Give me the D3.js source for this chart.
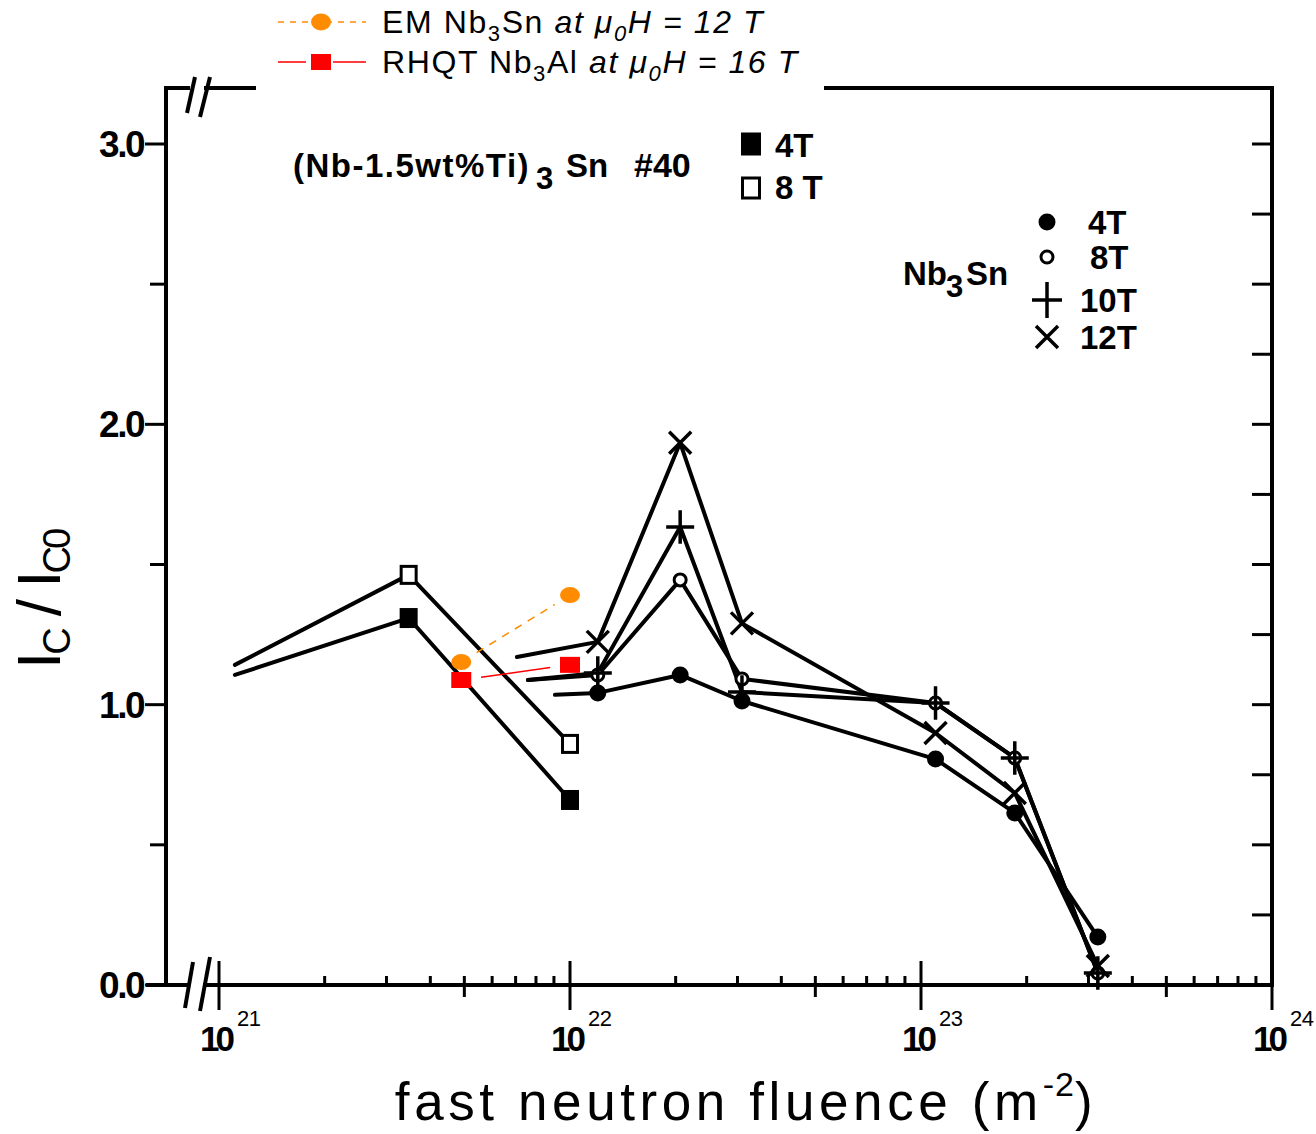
<!DOCTYPE html>
<html>
<head>
<meta charset="utf-8">
<script src="https://cdn.jsdelivr.net/npm/d3@7"></script>
<style>
  body { margin: 0; background: #fff; }
  svg { display: block; }
  text { font-family: "Liberation Sans", Arial, sans-serif; }
</style>
</head>
<body>
<div id="chart"></div>
<script>
// fluence in m^-2. The first point of each black series is only where the
// drawn line starts in the original figure (no marker there).
const nbtiFluence = [1.11e21, 3.47e21, 1.0e22];
const nbti4T = [1.106, 1.309, 0.660];
const nbti8T = [1.142, 1.463, 0.860];

const sn4TFluence = [9.06e21, 1.20e22, 2.06e22, 3.09e22, 1.10e23, 1.85e23, 3.19e23];
const sn4T = [1.035, 1.042, 1.106, 1.013, 0.806, 0.614, 0.171];
const sn8TFluence = [7.59e21, 1.20e22, 2.06e22, 3.09e22, 1.10e23, 1.85e23, 3.19e23];
const sn8T = [1.088, 1.106, 1.445, 1.092, 1.006, 0.810, 0.043];
const sn10T = [1.088, 1.113, 1.634, 1.045, 1.006, 0.810, 0.043];
const sn12TFluence = [7.06e21, 1.20e22, 2.06e22, 3.09e22, 1.10e23, 1.85e23, 3.19e23];
const sn12T = [1.170, 1.224, 1.934, 1.290, 0.899, 0.685, 0.068];

const emFluence = [4.9e21, 1.0e22];
const emNb3Sn = [1.152, 1.391];
const rhqtFluence = [4.9e21, 1.0e22];
const rhqtNb3Al = [1.088, 1.142];

const yTicks = [0, 1, 2, 3];
const yTickLabels = ["0.0", "1.0", "2.0", "3.0"];
const xDecades = [1e21, 1e22, 1e23, 1e24];
const xExponents = ["21", "22", "23", "24"];

const W = 1316, H = 1134;
const svg = d3.select("#chart").append("svg")
    .attr("width", W).attr("height", H);

const x = d3.scaleLog().domain([1e21, 1e24]).range([219, 1272]);
const y = d3.scaleLinear().domain([0, 3]).range([985, 144]);
const frameLeft = 166, frameTop = 88, frameRight = x(1e24), frameBottom = y(0);

const zip = (xs, ys) => xs.map((v, i) => [v, ys[i]]);
const line = d3.line().x(d => x(d[0])).y(d => y(d[1]));

// ---- frame ----
const frame = svg.append("g").attr("stroke", "#000").attr("fill", "none")
    .attr("stroke-width", 4).attr("stroke-linecap", "square");
frame.append("path").attr("d",
    `M${frameLeft},${frameBottom} V${frameTop} H188 M206,${frameTop} H${frameRight} V${frameBottom}`);
frame.append("path").attr("d",
    `M148,${frameBottom} H188 M205,${frameBottom} H${frameRight}`);
// break marks
const brk = svg.append("g").attr("stroke", "#000").attr("stroke-width", 4);
[[185, 1008, 193, 962], [200, 1011, 210, 957], [187, 113, 195, 77], [200, 117, 210, 77]]
    .forEach(s => brk.append("line").attr("x1", s[0]).attr("y1", s[1]).attr("x2", s[2]).attr("y2", s[3]));

// y ticks: outward on left every 0.5, inward on right every 0.25
const ax = svg.append("g").attr("stroke", "#000");
d3.range(0, 3.01, 0.5).forEach(v => {
  ax.append("line").attr("x1", frameLeft - (v % 1 === 0 ? 21 : 16)).attr("x2", frameLeft)
      .attr("y1", y(v)).attr("y2", y(v)).attr("stroke-width", 3);
});
d3.range(0, 3.01, 0.25).forEach(v => {
  ax.append("line").attr("x1", frameRight - 20).attr("x2", frameRight)
      .attr("y1", y(v)).attr("y2", y(v)).attr("stroke-width", 3);
});
svg.append("g").selectAll("text").data(yTicks).join("text")
    .attr("x", 143).attr("y", d => y(d) + 13)
    .attr("text-anchor", "end").attr("font-size", 37).attr("font-weight", "bold")
    .attr("letter-spacing", -2.5)
    .text((d, i) => yTickLabels[i]);

// x ticks
xDecades.forEach(d => {
  ax.append("line").attr("x1", x(d)).attr("x2", x(d))
      .attr("y1", frameBottom - 24).attr("y2", frameBottom + 25).attr("stroke-width", 3);
});
xDecades.slice(0, -1).forEach(d => {
  d3.range(2, 10).forEach(m => {
    const v = d * m;
    ax.append("line").attr("x1", x(v)).attr("x2", x(v))
        .attr("y1", frameBottom - 9).attr("y2", frameBottom + (m === 5 ? 12 : 0))
        .attr("stroke-width", 3);
  });
});
const xl = svg.append("g").attr("font-weight", "bold");
xDecades.forEach((d, i) => {
  const t = xl.append("text").attr("x", x(d) - 19).attr("y", 1051)
      .attr("font-size", 35).attr("letter-spacing", -4);
  t.append("tspan").text("10");
  t.append("tspan").attr("dy", -25).attr("dx", 6).attr("font-size", 22)
      .attr("font-weight", "normal").attr("letter-spacing", -0.5).text(xExponents[i]);
});

// axis titles
const xt = svg.append("text").attr("x", 746).attr("y", 1120).attr("text-anchor", "middle")
    .attr("font-size", 53).attr("letter-spacing", 4.6);
xt.append("tspan").text("fast neutron fluence (m");
xt.append("tspan").attr("dy", -24).attr("font-size", 34).attr("letter-spacing", 1).text("-2");
xt.append("tspan").attr("dy", 24).text(")");

const yt = svg.append("text").attr("transform", "translate(60,600) rotate(-90)")
    .attr("text-anchor", "middle").attr("font-size", 62).attr("letter-spacing", -3);
yt.append("tspan").text("I");
yt.append("tspan").attr("font-size", 38).attr("dy", 10).text("C");
yt.append("tspan").attr("dy", -10).text(" / I");
yt.append("tspan").attr("font-size", 38).attr("dy", 10).text("C0");

// ---- data lines ----
const lines = svg.append("g").attr("fill", "none").attr("stroke", "#000")
    .attr("stroke-width", 4).attr("stroke-linejoin", "round").attr("stroke-linecap", "round");
[[nbtiFluence, nbti4T], [nbtiFluence, nbti8T],
 [sn4TFluence, sn4T], [sn8TFluence, sn8T], [sn8TFluence, sn10T], [sn12TFluence, sn12T]]
  .forEach(s => lines.append("path").attr("d", line(zip(s[0], s[1]))));

// comparison series: line stops short of the markers
function gapLine(pts, gap) {
  const p0 = [x(pts[0][0]), y(pts[0][1])], p1 = [x(pts[1][0]), y(pts[1][1])];
  const dx = p1[0] - p0[0], dy = p1[1] - p0[1], L = Math.hypot(dx, dy);
  const ux = dx / L, uy = dy / L;
  return `M${p0[0] + ux * gap},${p0[1] + uy * gap} L${p1[0] - ux * gap},${p1[1] - uy * gap}`;
}
svg.append("path").attr("d", gapLine(zip(emFluence, emNb3Sn), 18))
    .attr("stroke", "#ff8c00").attr("stroke-width", 1.5).attr("stroke-dasharray", "8,7").attr("fill", "none");
svg.append("path").attr("d", gapLine(zip(rhqtFluence, rhqtNb3Al), 20))
    .attr("stroke", "#ff0000").attr("stroke-width", 1.5).attr("fill", "none");

// ---- markers ----
const mk = svg.append("g");
function square(g, cx, cy, filled, w = 15, h = 17) {
  g.append("rect").attr("x", cx - w / 2).attr("y", cy - h / 2).attr("width", w).attr("height", h)
      .attr("fill", filled ? "#000" : "#fff").attr("stroke", "#000").attr("stroke-width", 3);
}
function dot(g, cx, cy, filled) {
  g.append("circle").attr("cx", cx).attr("cy", cy).attr("r", filled ? 8.5 : 6)
      .attr("fill", filled ? "#000" : "#fff").attr("stroke", "#000").attr("stroke-width", filled ? 0 : 3);
}
function plus(g, cx, cy, s) {
  g.append("path").attr("d", `M${cx - s},${cy} H${cx + s} M${cx},${cy - s * 1.2} V${cy + s * 1.2}`)
      .attr("stroke", "#000").attr("stroke-width", 3.5);
}
function cross(g, cx, cy, s) {
  g.append("path").attr("d", `M${cx - s},${cy - s} L${cx + s},${cy + s} M${cx - s},${cy + s} L${cx + s},${cy - s}`)
      .attr("stroke", "#000").attr("stroke-width", 3.5);
}
zip(nbtiFluence, nbti4T).slice(1).forEach(d => square(mk, x(d[0]), y(d[1]), true));
zip(nbtiFluence, nbti8T).slice(1).forEach(d => square(mk, x(d[0]), y(d[1]), false));
zip(sn4TFluence, sn4T).slice(1).forEach(d => dot(mk, x(d[0]), y(d[1]), true));
zip(sn8TFluence, sn8T).slice(1).forEach(d => dot(mk, x(d[0]), y(d[1]), false));
zip(sn8TFluence, sn10T).slice(1).forEach(d => plus(mk, x(d[0]), y(d[1]), 14));
zip(sn12TFluence, sn12T).slice(1).forEach(d => cross(mk, x(d[0]), y(d[1]), 11));

zip(emFluence, emNb3Sn).forEach(d => mk.append("ellipse").attr("cx", x(d[0])).attr("cy", y(d[1]))
    .attr("rx", 10).attr("ry", 8).attr("fill", "#ff8c00"));
zip(rhqtFluence, rhqtNb3Al).forEach(d => mk.append("rect").attr("x", x(d[0]) - 10).attr("y", y(d[1]) - 8)
    .attr("width", 20).attr("height", 16).attr("fill", "#ff0000"));

// ---- annotations ----
const an = svg.append("g").attr("font-weight", "bold").attr("font-size", 33);
const a1 = an.append("text").attr("y", 177);
a1.append("tspan").attr("x", 293).attr("letter-spacing", 1.5).text("(Nb-1.5wt%Ti)");
a1.append("tspan").attr("x", 536).attr("dy", 12).attr("font-size", 31).text("3");
a1.append("tspan").attr("x", 566).attr("dy", -12).text("Sn");
a1.append("tspan").attr("x", 634).attr("font-size", 34).text("#40");
square(an, 751, 144, true, 17, 20);
square(an, 751, 188, false, 17, 20);
an.append("text").attr("x", 775).attr("y", 157).text("4T");
an.append("text").attr("x", 775).attr("y", 199).text("8 T");

const a2 = an.append("text").attr("y", 285);
a2.append("tspan").attr("x", 903).text("Nb");
a2.append("tspan").attr("x", 946).attr("dy", 12).attr("font-size", 31).text("3");
a2.append("tspan").attr("x", 966).attr("dy", -12).text("Sn");
dot(an, 1047, 222, true);
dot(an, 1047, 257, false);
plus(an, 1047, 300, 15);
cross(an, 1047, 337, 11);
an.append("text").attr("x", 1088).attr("y", 234).text("4T");
an.append("text").attr("x", 1090).attr("y", 269).text("8T");
an.append("text").attr("x", 1080).attr("y", 312).text("10T");
an.append("text").attr("x", 1080).attr("y", 349).text("12T");

// ---- legend (white box over the top frame) ----
const lg = svg.append("g");
lg.append("rect").attr("x", 256).attr("y", 0).attr("width", 568).attr("height", 104).attr("fill", "#fff");
lg.append("line").attr("x1", 278).attr("x2", 366).attr("y1", 22).attr("y2", 22)
    .attr("stroke", "#ff8c00").attr("stroke-width", 1.5).attr("stroke-dasharray", "6,6");
lg.append("ellipse").attr("cx", 321).attr("cy", 22).attr("rx", 10).attr("ry", 8.5).attr("fill", "#ff8c00");
lg.append("path").attr("d", "M278,62 H306 M333,62 H366").attr("stroke", "#ff0000").attr("stroke-width", 1.5);
lg.append("rect").attr("x", 311).attr("y", 54).attr("width", 20).attr("height", 16).attr("fill", "#ff0000");

function legendText(yb, pre, sub1, mid, val) {
  const t = lg.append("text").attr("x", 382).attr("y", yb).attr("font-size", 32).attr("letter-spacing", 1.6);
  t.append("tspan").text(pre);
  t.append("tspan").attr("dy", 8).attr("font-size", 22).text(sub1);
  t.append("tspan").attr("dy", -8).text(mid + " ");
  t.append("tspan").attr("font-style", "italic").text("at \u03bc");
  t.append("tspan").attr("font-style", "italic").attr("dy", 8).attr("font-size", 22).text("0");
  t.append("tspan").attr("font-style", "italic").attr("dy", -8).text("H = " + val + " T");
}
legendText(33, "EM Nb", "3", "Sn", "12");
legendText(73, "RHQT Nb", "3", "Al", "16");
</script>
</body>
</html>
